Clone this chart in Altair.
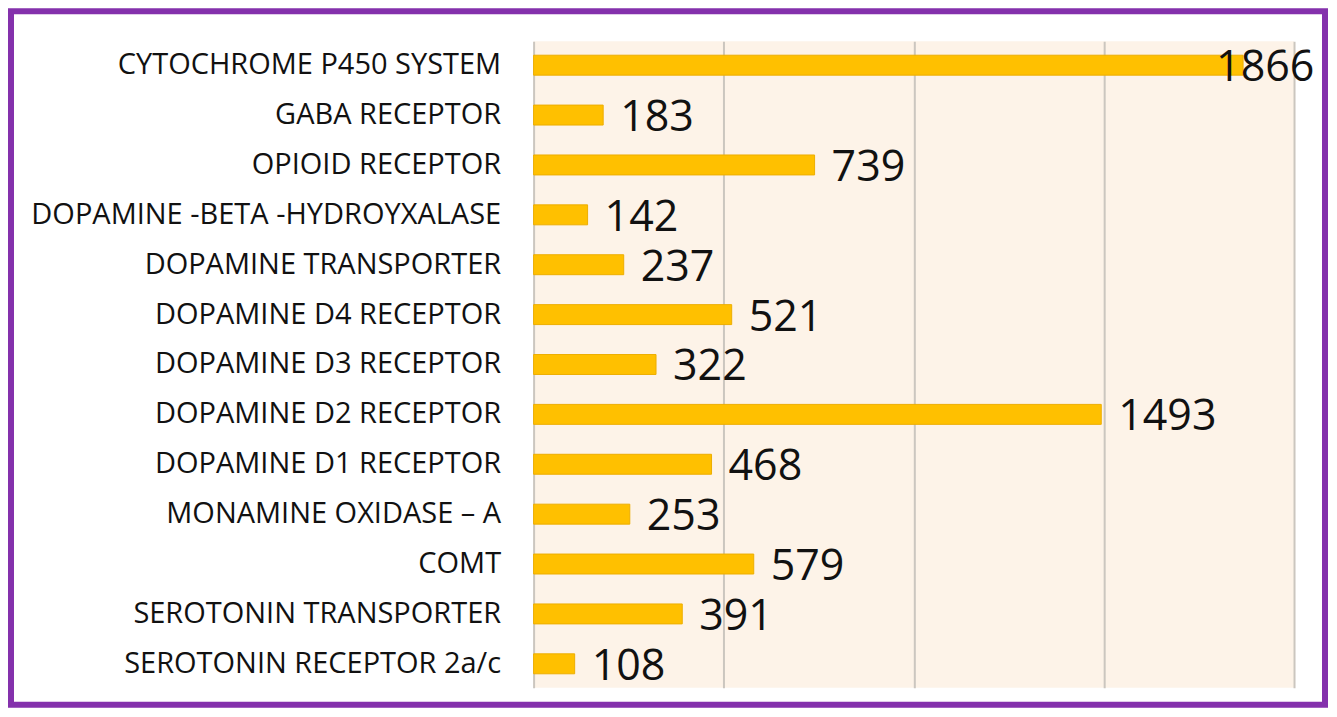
import altair as alt
import pandas as pd

categories = [
    "CYTOCHROME P450 SYSTEM",
    "GABA RECEPTOR",
    "OPIOID RECEPTOR",
    "DOPAMINE -BETA -HYDROYXALASE",
    "DOPAMINE TRANSPORTER",
    "DOPAMINE D4 RECEPTOR",
    "DOPAMINE D3 RECEPTOR",
    "DOPAMINE D2 RECEPTOR",
    "DOPAMINE D1 RECEPTOR",
    "MONAMINE OXIDASE \u2013 A",
    "COMT",
    "SEROTONIN TRANSPORTER",
    "SEROTONIN RECEPTOR 2a/c",
]
values = [1866, 183, 739, 142, 237, 521, 322, 1493, 468, 253, 579, 391, 108]
x_ticks = [0, 500, 1000, 1500, 2000]

df = pd.DataFrame({"category": categories, "value": values})

FONT = "Open Sans"
W, H = 761, 647

x = alt.X("value:Q", scale=alt.Scale(domain=[0, 2000], nice=False),
          axis=alt.Axis(values=x_ticks, labels=False, ticks=False, domain=False,
                        grid=True, gridColor="#CBC6BF", gridWidth=2, title=None))
y = alt.Y("category:N", sort=categories,
          scale=alt.Scale(paddingInner=0.6, paddingOuter=0.28),
          axis=alt.Axis(title=None, ticks=False, domain=False, labelFont=FONT,
                        labelFontSize=29, labelColor="#111111", labelPadding=33,
                        labelLimit=700))

base = alt.Chart(df)

bars = base.mark_bar(color="#FFC000", stroke="#EDAE00", strokeWidth=1).encode(x=x, y=y)

labels = base.transform_filter(alt.datum.value < 1800).mark_text(
    align="left", baseline="middle", dx=17, dy=3, font=FONT, fontSize=43, color="#111111"
).encode(x="value:Q", y=alt.Y("category:N", sort=categories), text="value:Q")

labels_max = base.transform_filter(alt.datum.value >= 1800).mark_text(
    align="left", baseline="middle", dx=-27, dy=3, font=FONT, fontSize=43, color="#111111"
).encode(x="value:Q", y=alt.Y("category:N", sort=categories), text="value:Q")

frame = alt.Chart(pd.DataFrame({"f": [0]})).mark_rect(
    fill=None, stroke="#8431AC", strokeWidth=6
).encode(x=alt.value(-523), x2=alt.value(792), y=alt.value(-30), y2=alt.value(664))

chart = alt.layer(bars, labels, labels_max, frame).properties(
    width=W, height=H,
    autosize=alt.AutoSizeParams(type="none"),
    padding={"left": 526, "top": 33, "right": 35, "bottom": 21},
    background="white",
).configure_view(fill="#FDF3E8", stroke=None)

chart.save("out.html", embed_options={"renderer": "svg", "actions": False})
